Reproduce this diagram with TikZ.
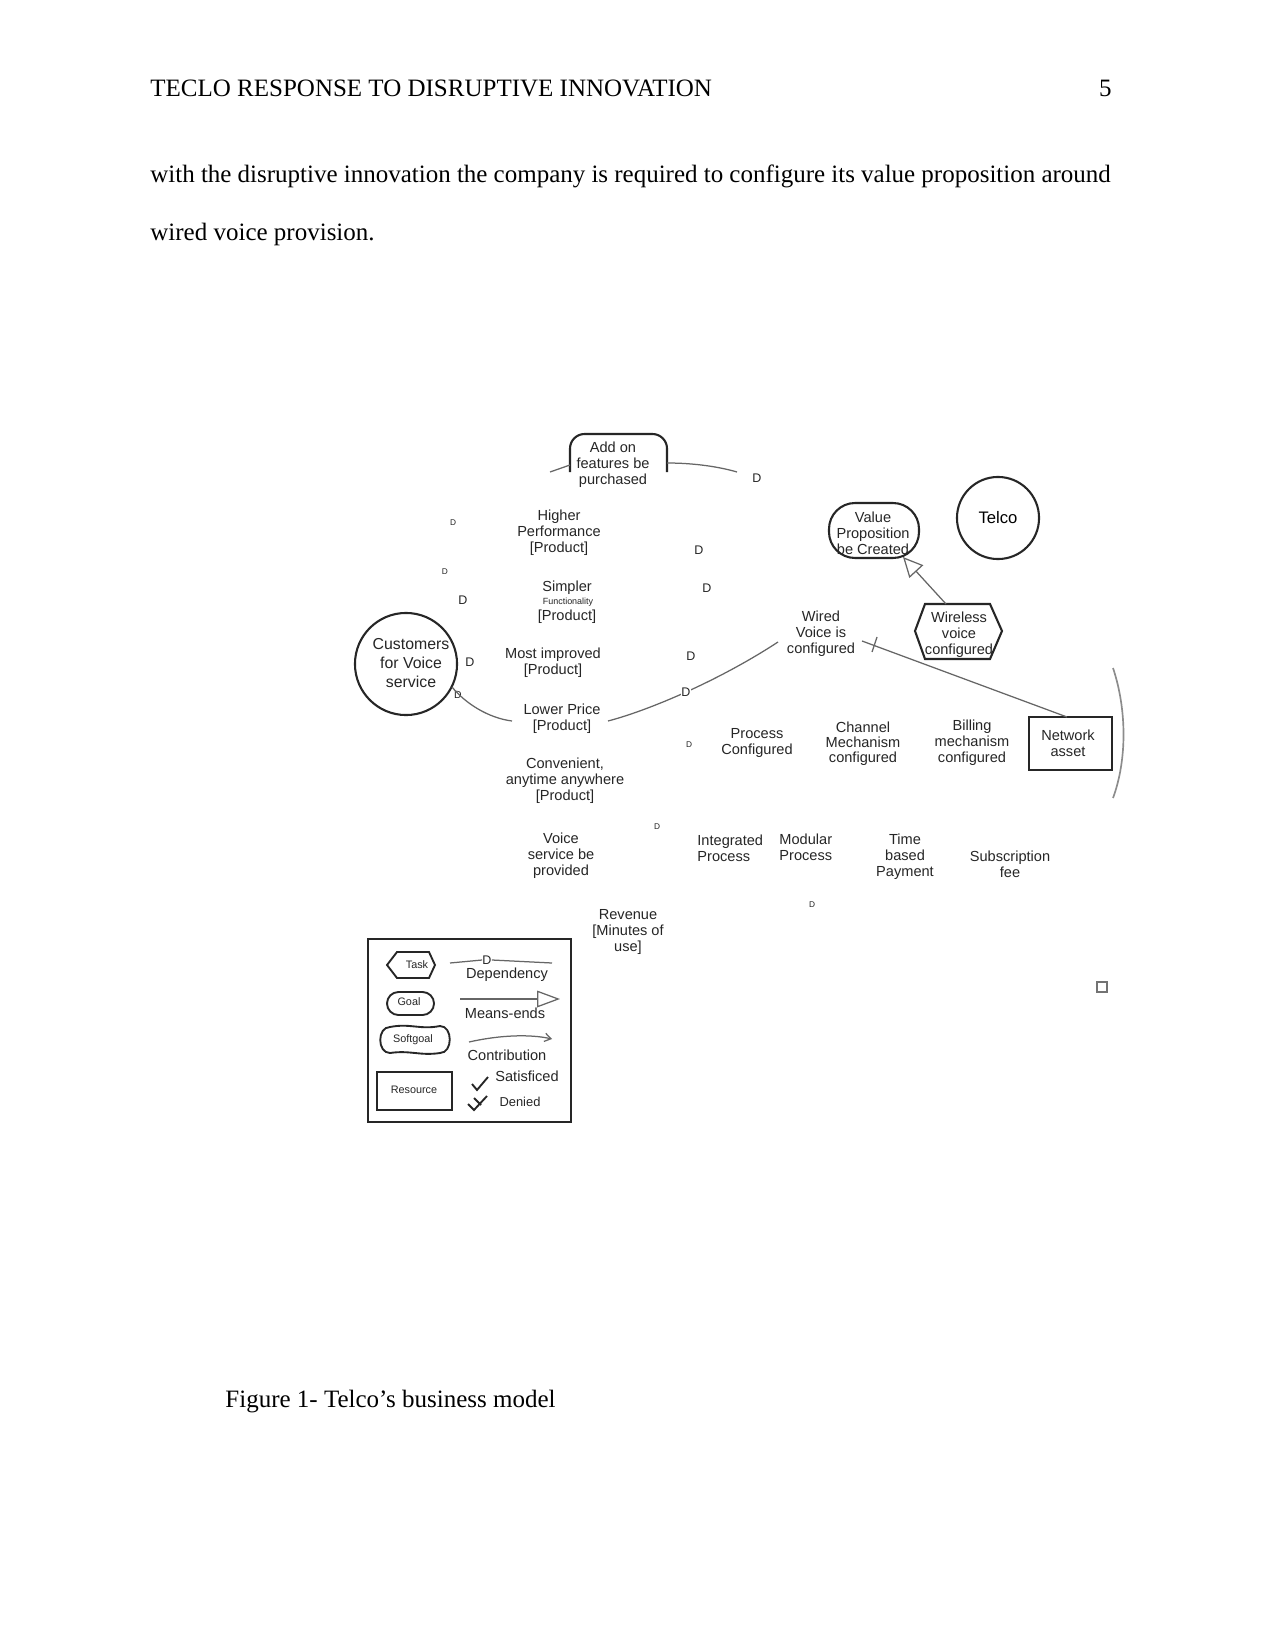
\documentclass[tikz,border=0pt]{standalone}
\usepackage{fontspec}
\setmainfont{Liberation Serif}
\newfontfamily\dsf{Liberation Sans}
\usetikzlibrary{arrows.meta}
\begin{document}
\begin{tikzpicture}[x=0.48pt,y=-0.48pt,
  every node/.style={inner sep=0pt},
  page/.style={font=\fontsize{12pt}{14pt}\selectfont, anchor=base west},
  lbl/.style={font=\dsf\fontsize{7pt}{7.7pt}\selectfont, align=center, text=black!85},
  lgd/.style={font=\dsf\fontsize{7pt}{7.7pt}\selectfont, text=black!85},
  tiny/.style={font=\dsf\fontsize{5.2pt}{6pt}\selectfont, text=black!85},
  dbig/.style={font=\dsf\fontsize{6pt}{6pt}\selectfont, text=black!85},
  dsmall/.style={font=\dsf\fontsize{4pt}{4pt}\selectfont, text=black!85},
  shp/.style={draw=black!85, line width=1pt},
  conn/.style={draw=black!60, line width=0.6pt},
]
\useasboundingbox[fill=white] (0,0) rectangle (1275,1650);

% page text
\node[page] (head) at (150,97) {TECLO RESPONSE TO DISRUPTIVE INNOVATION};
\node[page, anchor=base east] (pnum) at (1112,97) {5};
\node[page] (body1) at (150,183) {\makebox[461pt][s]{with the disruptive innovation the company is required to configure its value proposition around}};
\node[page] (body2) at (150,241) {wired voice provision.};
\node[page] (cap) at (225,1407) {Figure 1- Telco’s business model};

% ---- actors
\node[shp, circle, minimum size=49pt] (cust) at (406,664) {};
\node[lbl, font=\dsf\fontsize{7.6pt}{9.1pt}\selectfont] (custtxt) at (411,663) {Customers\\for Voice\\service};
\node[shp, circle, minimum size=39.4pt, font=\dsf\fontsize{8pt}{9pt}\selectfont] (telco) at (998,518) {Telco};

% ---- add-on softgoal (arch)
\draw[shp, rounded corners=7pt] (570,472) -- (570,434) -- (667,434) -- (667,472);
\node[lbl] (addon) at (613,465) {Add on\\features be\\purchased};

% ---- value proposition goal
\draw[shp, rounded corners=12.5pt] (829,503) rectangle (919,558);
\node[lbl] (value) at (873,533) {Value\\Proposition\\be Created};

% ---- wireless task hexagon
\draw[shp] (925,604) -- (990,604) -- (1002,631) -- (990,659) -- (925,659) -- (915,631) -- cycle;
\node[lbl] (wireless) at (959,635) {Wireless\\voice\\configured};

% ---- network asset resource
\draw[shp, line width=1.2pt] (1029,717) rectangle (1112,770);
\node[lbl] (network) at (1068,743) {Network\\asset};

% ---- plain labels
\node[lbl] (higher) at (559,533) {Higher\\Performance\\{[Product]}};
\node[lbl] (simpler) at (567,588) {Simpler};
\node[dsmall, font=\dsf\fontsize{4.3pt}{5pt}\selectfont] (func) at (568,602) {Functionality};
\node[lbl] (simplerp) at (567,617) {{[Product]}};
\node[lbl] (mostimp) at (553,663) {Most improved\\{[Product]}};
\node[lbl] (lower) at (562,719) {Lower Price\\{[Product]}};
\node[lbl] (conv) at (565,781) {Convenient,\\anytime anywhere\\{[Product]}};
\node[lbl] (voice) at (561,856) {Voice\\service be\\provided};
\node[lbl] (revenue) at (628,932) {Revenue\\{[Minutes of}\\use]};
\node[lbl] (wired) at (821,634) {Wired\\Voice is\\configured};
\node[lbl] (process) at (757,743) {Process\\Configured};
\node[lbl, font=\dsf\fontsize{7pt}{7.2pt}\selectfont] (channel) at (863,744) {Channel\\Mechanism\\configured};
\node[lbl] (billing) at (972,743) {Billing\\mechanism\\configured};
\node[lbl, align=left, anchor=west] (integ) at (697,848) {Integrated\\Process};
\node[lbl, align=left, anchor=west] (modular) at (779,847) {Modular\\Process};
\node[lbl] (timeb) at (905,857) {Time\\based\\Payment};
\node[lbl] (subs) at (1010,864) {Subscription\\fee};

% ---- D labels
\node[dbig] (d1) at (757,478) {D};
\node[dbig] (d2) at (699,550) {D};
\node[dbig] (d3) at (707,588) {D};
\node[dbig] (d4) at (463,600) {D};
\node[dbig] (d5) at (470,662) {D};
\node[dbig] (d6) at (691,656) {D};
\node[dsmall, font=\dsf\fontsize{5pt}{5pt}\selectfont] (d7) at (458,695) {D};
\node[dsmall] (d8) at (453,523) {D};
\node[dsmall] (d9) at (445,572) {D};
\node[dsmall] (d10) at (689,745) {D};
\node[dsmall] (d11) at (657,827) {D};
\node[dsmall] (d12) at (812,905) {D};

% ---- connectors
\coordinate (aoL1) at (550,472); \coordinate (aoL2) at (570,465);
\coordinate (aoR1) at (667,463); \coordinate (aoR2) at (737,472);
\draw[conn] (aoL1) -- (aoL2);
\draw[conn] (aoR1) .. controls (695,463) and (720,467) .. (aoR2);

\coordinate (cuOut) at (452,687); \coordinate (lpIn) at (512,721);
\draw[conn] (cuOut) .. controls (465,703) and (488,718) .. (lpIn);

\coordinate (lpOut) at (608,721); \coordinate (wvIn) at (778,642);
\draw[conn] (lpOut) .. controls (650,710) and (720,680) .. (wvIn);
\node[dbig, fill=white, inner sep=0.4pt] (dmid) at (686,692) {D};

\coordinate (wvOut) at (862,641); \coordinate (naIn) at (1067,717);
\draw[conn] (wvOut) -- (naIn);
\coordinate (tk1) at (872,652); \coordinate (tk2) at (877,637);
\draw[conn] (tk1) -- (tk2);

\coordinate (wlTop) at (946,604); \coordinate (vpBot) at (903,557);
\draw[conn, -{Triangle[open, length=9.5pt, width=9pt]}] (wlTop) -- (vpBot);

\coordinate (arcA) at (1113,668); \coordinate (arcB) at (1113,798);
\draw[draw=black!45, line width=0.8pt] (arcA) .. controls (1127,710) and (1127,760) .. (arcB);

\coordinate (sqA) at (1097,982); \coordinate (sqB) at (1107,992);
\draw[draw=black!55, line width=0.5pt] (sqA) rectangle (sqB);

% ---- legend
\draw[shp, line width=1.1pt] (368,939) rectangle (571,1122);
\draw[shp, line width=0.9pt] (397,952) -- (429,952) -- (435,965) -- (429,978) -- (397,978) -- (387,965) -- cycle;
\node[tiny] (lTask) at (417,965) {Task};
\draw[shp, line width=0.9pt, rounded corners=5.5pt] (387,992) rectangle (434,1015);
\node[tiny] (lGoal) at (409,1002) {Goal};
\draw[shp, line width=0.9pt] (390,1027) .. controls (410,1023) and (420,1030) .. (440,1026)
  .. controls (453,1026) and (453,1053) .. (440,1053)
  .. controls (420,1056) and (410,1050) .. (390,1053)
  .. controls (377,1053) and (377,1027) .. (390,1027) -- cycle;
\node[tiny] (lSoft) at (413,1040) {Softgoal};
\draw[shp, line width=1.1pt] (377,1072) rectangle (452,1110);
\node[tiny] (lRes) at (414,1090) {Resource};

\coordinate (dep1) at (450,963); \coordinate (dep2) at (552,963);
\node[dbig] (lD) at (487,960) {D};
\draw[conn] (dep1) -- (lD.west);
\draw[conn] (lD.east) -- (dep2);
\node[lgd] (lDep) at (507,975) {Dependency};
\coordinate (me1) at (460,999); \coordinate (me2) at (560,999);
\draw[conn, -{Triangle[open, length=11pt, width=8pt]}] (me1) -- (me2);
\node[lgd] (lMe) at (505,1013) {Means-ends};
\coordinate (co1) at (469,1042); \coordinate (co2) at (552,1039);
\draw[conn, -{Straight Barb[length=3pt, width=4pt]}] (co1) .. controls (500,1035) and (530,1034) .. (co2);
\node[lgd] (lCo) at (507,1055) {Contribution};
\draw[black!85, line width=0.9pt] (472,1084) -- (477,1090) -- (488,1077);
\node[lgd] (lSat) at (527,1076) {Satisficed};
\draw[black!85, line width=0.9pt] (468,1104) -- (474,1110) -- (487,1096);
\draw[black!85, line width=0.9pt] (474,1098) -- (481,1105);
\node[lgd, font=\dsf\fontsize{6.2pt}{7pt}\selectfont] (lDen) at (520,1102) {Denied};
\end{tikzpicture}
\end{document}
